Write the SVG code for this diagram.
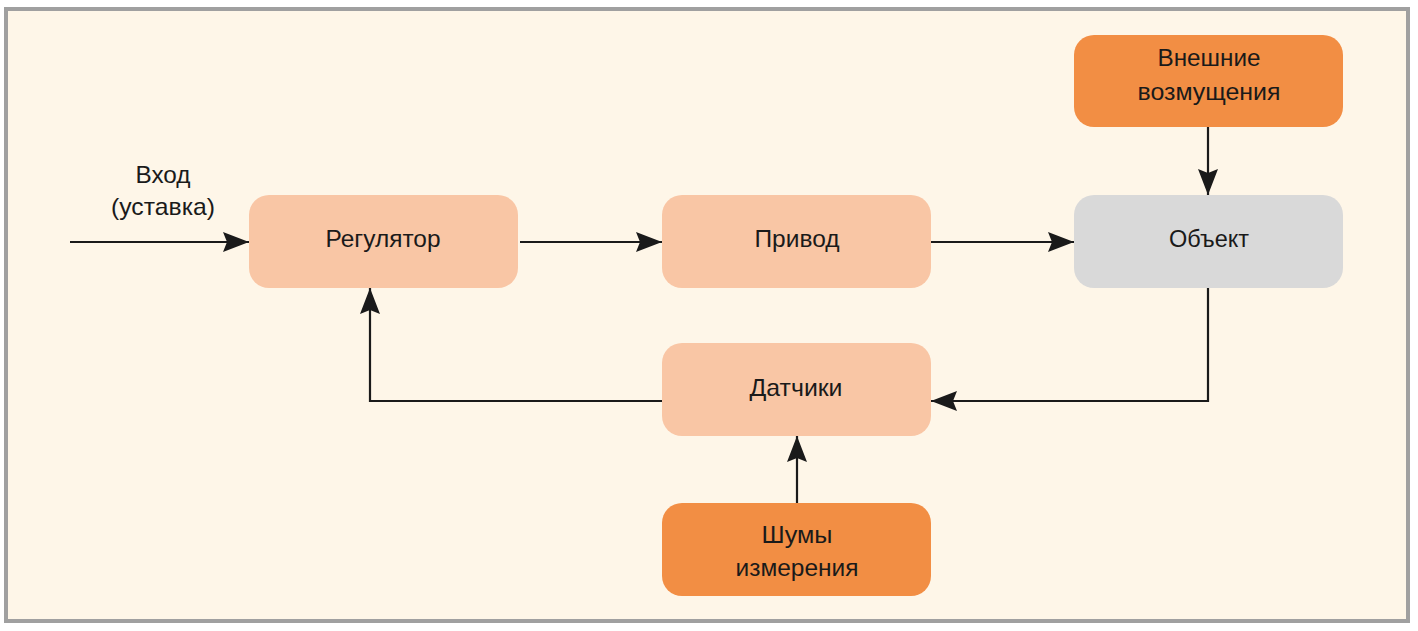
<svg xmlns="http://www.w3.org/2000/svg" width="1418" height="631" viewBox="0 0 1418 631">
<style>
.t{font-family:"Liberation Sans",Arial,sans-serif;font-size:24px;fill:#1a1a1a;text-anchor:middle}
.light{fill:#F9C6A5}
.dark{fill:#F28E44}
.gray{fill:#D9D9D9}
.c{fill:none;stroke:#1a1a1a;stroke-width:2.2}
</style>
<defs>
<marker id="a" viewBox="0 0 26 20" refX="26" refY="10" markerWidth="26" markerHeight="20" markerUnits="userSpaceOnUse" orient="auto">
<path d="M0,0 L26,10 L0,20 L4,10 Z" fill="#1a1a1a"/>
</marker>
</defs>
<rect x="6" y="9" width="1402" height="612" fill="#FEF6E8" stroke="#A0A0A0" stroke-width="4"/>
<g id="connectors">
<line class="c" x1="70" y1="242" x2="249" y2="242" marker-end="url(#a)"/>
<line class="c" x1="520" y1="242" x2="662" y2="242" marker-end="url(#a)"/>
<line class="c" x1="931" y1="242" x2="1074" y2="242" marker-end="url(#a)"/>
<line class="c" x1="1208" y1="127" x2="1208" y2="195" marker-end="url(#a)"/>
<polyline class="c" points="1208,288 1208,401 931,401" marker-end="url(#a)"/>
<polyline class="c" points="662,401 370,401 370,288" marker-end="url(#a)"/>
<line class="c" x1="797" y1="503" x2="797" y2="436" marker-end="url(#a)"/>
</g>
<g id="input-label">
<text class="t" x="163" y="183" textLength="55" lengthAdjust="spacingAndGlyphs">Вход</text>
<text class="t" x="163" y="215" textLength="104" lengthAdjust="spacingAndGlyphs">(уставка)</text>
</g>
<g id="regulator">
<rect class="light" x="249" y="195" width="269" height="93" rx="20"/>
<text class="t" x="383" y="247" textLength="115" lengthAdjust="spacingAndGlyphs">Регулятор</text>
</g>
<g id="drive">
<rect class="light" x="662" y="195" width="269" height="93" rx="20"/>
<text class="t" x="797" y="247" textLength="85" lengthAdjust="spacingAndGlyphs">Привод</text>
</g>
<g id="object">
<rect class="gray" x="1074" y="195" width="269" height="93" rx="20"/>
<text class="t" x="1209" y="247" textLength="80" lengthAdjust="spacingAndGlyphs">Объект</text>
</g>
<g id="disturbance">
<rect class="dark" x="1074" y="35" width="269" height="92" rx="20"/>
<text class="t" x="1209" y="66" textLength="103" lengthAdjust="spacingAndGlyphs">Внешние</text>
<text class="t" x="1209" y="100" textLength="143" lengthAdjust="spacingAndGlyphs">возмущения</text>
</g>
<g id="sensors">
<rect class="light" x="662" y="343" width="269" height="93" rx="20"/>
<text class="t" x="796" y="396" textLength="93" lengthAdjust="spacingAndGlyphs">Датчики</text>
</g>
<g id="noise">
<rect class="dark" x="662" y="503" width="269" height="93" rx="20"/>
<text class="t" x="797" y="543" textLength="71" lengthAdjust="spacingAndGlyphs">Шумы</text>
<text class="t" x="797" y="576" textLength="123" lengthAdjust="spacingAndGlyphs">измерения</text>
</g>
</svg>
